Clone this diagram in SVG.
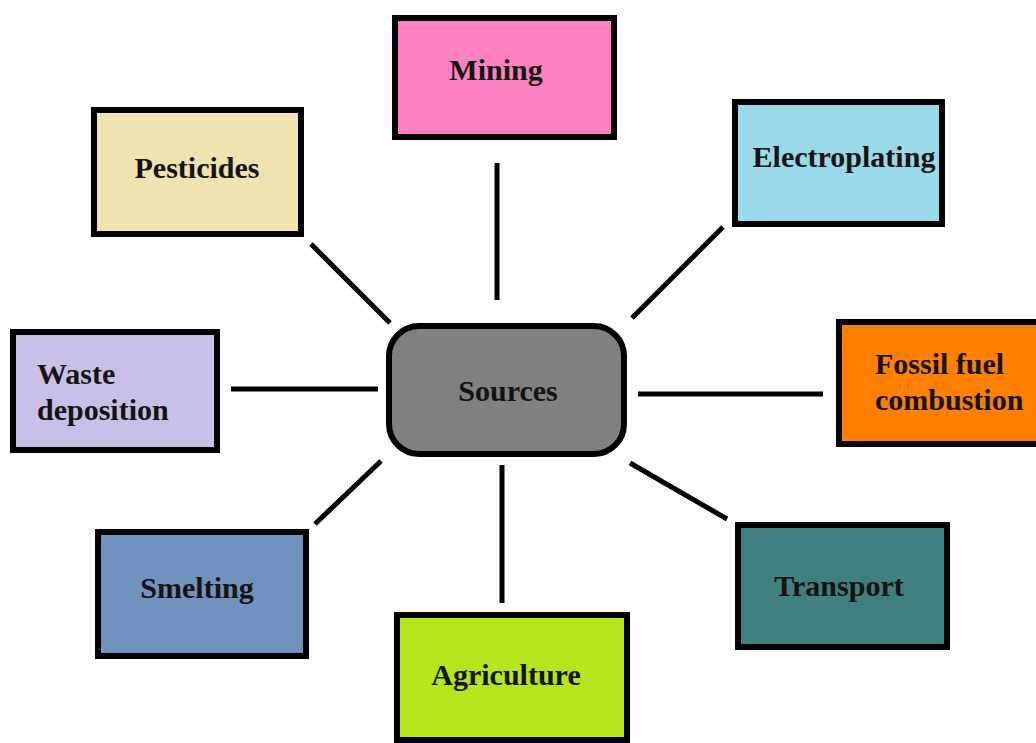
<svg xmlns="http://www.w3.org/2000/svg" width="1036" height="743" viewBox="0 0 1036 743">
<style>
.box{stroke:#000;stroke-width:6}
.t{font-family:"Liberation Serif","Times New Roman",serif;font-weight:bold;font-size:30px;fill:#141414}
.c{text-anchor:middle}
.ln{stroke:#000;stroke-width:5;stroke-linecap:butt}
</style>
<rect width="1036" height="743" fill="#fff"/>
<g id="connectors">
<line class="ln" x1="497" y1="163" x2="497" y2="300"/>
<line class="ln" x1="723" y1="227" x2="632" y2="318"/>
<line class="ln" x1="311" y1="244" x2="390" y2="323"/>
<line class="ln" x1="231" y1="389" x2="378" y2="389"/>
<line class="ln" x1="638" y1="394" x2="823" y2="394"/>
<line class="ln" x1="381" y1="461" x2="315" y2="524"/>
<line class="ln" x1="502" y1="465" x2="502" y2="603"/>
<line class="ln" x1="630" y1="463" x2="727" y2="519"/>
</g>
<g id="sources">
<rect class="box" x="389" y="326" width="235" height="128" rx="30" fill="#808080" stroke-width="5"/>
<text class="t c" x="508" y="401">Sources</text>
</g>
<g id="mining">
<rect class="box" x="395" y="18" width="219" height="119" fill="#ff80c0"/>
<text class="t c" x="496" y="80">Mining</text>
</g>
<g id="electroplating">
<rect class="box" x="735" y="102" width="207" height="122" fill="#99d9ea"/>
<text class="t c" x="844" y="167">Electroplating</text>
</g>
<g id="pesticides">
<rect class="box" x="94" y="110" width="207" height="124" fill="#efe4b0"/>
<text class="t c" x="197" y="178">Pesticides</text>
</g>
<g id="waste">
<rect class="box" x="13" y="332" width="204" height="118" fill="#c8bfe7"/>
<text class="t" x="37" y="384">Waste</text>
<text class="t" x="37" y="420">deposition</text>
</g>
<g id="fossil">
<rect class="box" x="839" y="322" width="210" height="122" fill="#ff8000"/>
<text class="t" x="875" y="374" fill="#2a0800">Fossil fuel</text>
<text class="t" x="875" y="410" fill="#2a0800">combustion</text>
</g>
<g id="smelting">
<rect class="box" x="98" y="532" width="208" height="124" fill="#7092be"/>
<text class="t c" x="197" y="598">Smelting</text>
</g>
<g id="agriculture">
<rect class="box" x="397" y="615" width="230" height="125" fill="#b5e61d"/>
<text class="t c" x="506" y="685">Agriculture</text>
</g>
<g id="transport">
<rect class="box" x="738" y="525" width="209" height="122" fill="#408080"/>
<text class="t c" x="839" y="596">Transport</text>
</g>
</svg>
